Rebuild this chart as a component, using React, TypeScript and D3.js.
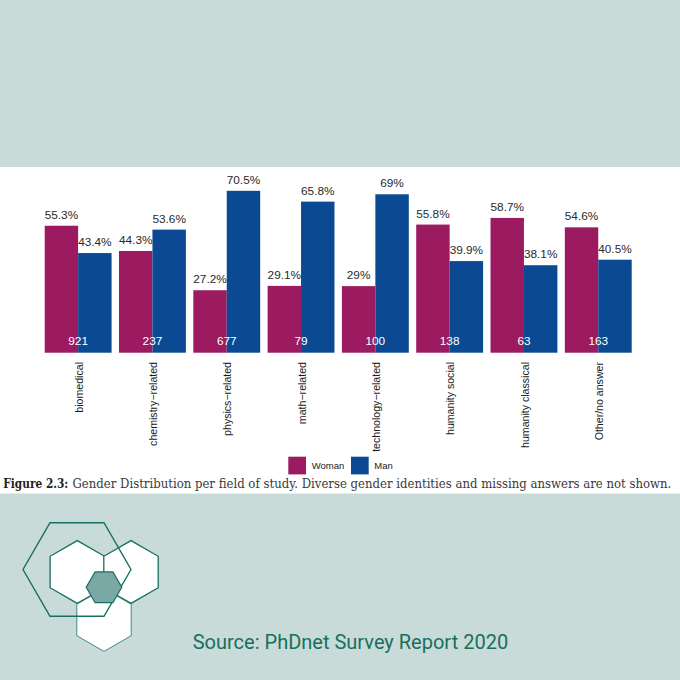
import { useLayoutEffect, useRef } from "react";
import { scaleBand, scaleLinear } from "d3";

const categories = [
    "biomedical",
    "chemistry−related",
    "physics−related",
    "math−related",
    "technology−related",
    "humanity social",
    "humanity classical",
    "Other/no answer",
];
const womanShare = [55.3, 44.3, 27.2, 29.1, 29, 55.8, 58.7, 54.6];
const manShare = [43.4, 53.6, 70.5, 65.8, 69, 39.9, 38.1, 40.5];
const respondents = [921, 237, 677, 79, 100, 138, 63, 163];
const seriesNames = ["Woman", "Man"];

const WOMAN = "#9b1a60";
const MAN = "#0b4a93";
const TEAL = "#17705f";
const BG = "#c9dbd9";

// flat = flat top (vertex at angle 0), otherwise pointy top
const hexPoints = (cx: number, cy: number, r: number, flat: boolean) =>
    Array.from({ length: 6 }, (_, i) => {
        const a = (Math.PI / 3) * i + (flat ? 0 : Math.PI / 6);
        return `${cx + r * Math.cos(a)},${cy + r * Math.sin(a)}`;
    }).join(" ");

const Logo = () => (
    <g>
        <polygon points={hexPoints(77.3, 572, 31.4, false)} fill="#fff" stroke={TEAL} strokeWidth={1.3} />
        <polygon points={hexPoints(131, 572, 31.4, false)} fill="#fff" stroke={TEAL} strokeWidth={1.3} />
        <polygon points={hexPoints(104, 620, 31.4, false)} fill="#fff" stroke={TEAL} strokeWidth={1} strokeOpacity={0.8} />
        <polygon points={hexPoints(77, 569.5, 54, true)} fill="none" stroke={TEAL} strokeWidth={1.4} />
        <polygon points={hexPoints(104, 587.3, 17.8, true)} fill="#7ba8a4" stroke={TEAL} strokeWidth={1.2} />
    </g>
);

// squeeze a text horizontally so it spans exactly `width` px from x
const FitText = ({ x, y, width, children, ...rest }: any) => {
    const ref = useRef<SVGTextElement>(null);
    const gRef = useRef<SVGGElement>(null);
    useLayoutEffect(() => {
        if (ref.current && gRef.current) {
            const w = ref.current.getComputedTextLength();
            const k = w > 0 ? width / w : 1;
            gRef.current.setAttribute("transform", `translate(${x},${y}) scale(${k},1)`);
        }
    }, [x, y, width]);
    return (
        <g ref={gRef} transform={`translate(${x},${y})`}>
            <text ref={ref} x={0} y={0} {...rest}>{children}</text>
        </g>
    );
};

export default function App() {
    const bandX = scaleBand<string>()
        .domain(categories)
        .range([44.7, 631.7])
        .paddingInner(0.1)
        .paddingOuter(0);
    const subX = scaleBand<string>()
        .domain(seriesNames)
        .range([0, bandX.bandwidth()]);
    const y = scaleLinear().domain([0, 100]).range([352.7, 123.1]);

    const series = [
        { name: "Woman", values: womanShare, color: WOMAN },
        { name: "Man", values: manShare, color: MAN },
    ];

    const font = "'Liberation Sans', Arial, sans-serif";

    return (
        <svg
            width={680}
            height={680}
            style={{ position: "absolute", left: 0, top: 0 }}
            fontFamily={font}
        >
            <rect x={0} y={0} width={680} height={680} fill={BG} />
            <rect x={0} y={167} width={680} height={326.5} fill="#fff" />

            {series.map((s) =>
                categories.map((c, i) => {
                    const x0 = (bandX(c) ?? 0) + (subX(s.name) ?? 0);
                    const v = s.values[i];
                    return (
                        <g key={`${s.name}-${c}`}>
                            <rect
                                x={x0}
                                y={y(v)}
                                width={subX.bandwidth()}
                                height={y(0) - y(v)}
                                fill={s.color}
                            />
                            <text
                                x={x0 + subX.bandwidth() / 2}
                                y={y(v) - 7}
                                textAnchor="middle"
                                fontSize={11.8}
                                fill="#2a2a2a"
                            >
                                {`${v}%`}
                            </text>
                        </g>
                    );
                })
            )}

            {categories.map((c, i) => {
                const cx = (bandX(c) ?? 0) + bandX.bandwidth() / 2;
                return (
                    <g key={`lab-${c}`}>
                        <text x={cx} y={345} textAnchor="middle" fontSize={11.8} fill="#fff">
                            {respondents[i]}
                        </text>
                        <text
                            transform={`translate(${cx + 4.6},362) rotate(-90)`}
                            textAnchor="end"
                            fontSize={10.6}
                            fill="#1a1a1a"
                        >
                            {c}
                        </text>
                    </g>
                );
            })}

            {/* legend */}
            <rect x={288.3} y={456.7} width={17.7} height={17.7} fill={WOMAN} />
            <text x={311.7} y={469.3} fontSize={9.5} fill="#1a1a1a">Woman</text>
            <rect x={351} y={456.7} width={17.7} height={17.7} fill={MAN} />
            <text x={374.3} y={469.3} fontSize={9.5} fill="#1a1a1a">Man</text>

            {/* caption */}
            <FitText
                x={3.3}
                y={488.3}
                width={65}
                fontFamily="'DejaVu Serif', serif"
                fontWeight="bold"
                fontSize={13}
                fill="#222"
            >
                Figure 2.3:
            </FitText>
            <FitText
                x={72.5}
                y={488.3}
                width={599.5}
                fontFamily="'DejaVu Serif', serif"
                fontSize={13}
                fill="#3a3a3a"
            >
                Gender Distribution per field of study. Diverse gender identities and missing answers are not shown.
            </FitText>

            <Logo />

            <FitText
                x={192.7}
                y={649.3}
                width={315.6}
                fontFamily="Roboto, sans-serif"
                fontSize={20.5}
                fill={TEAL}
            >
                Source: PhDnet Survey Report 2020
            </FitText>
        </svg>
    );
}
